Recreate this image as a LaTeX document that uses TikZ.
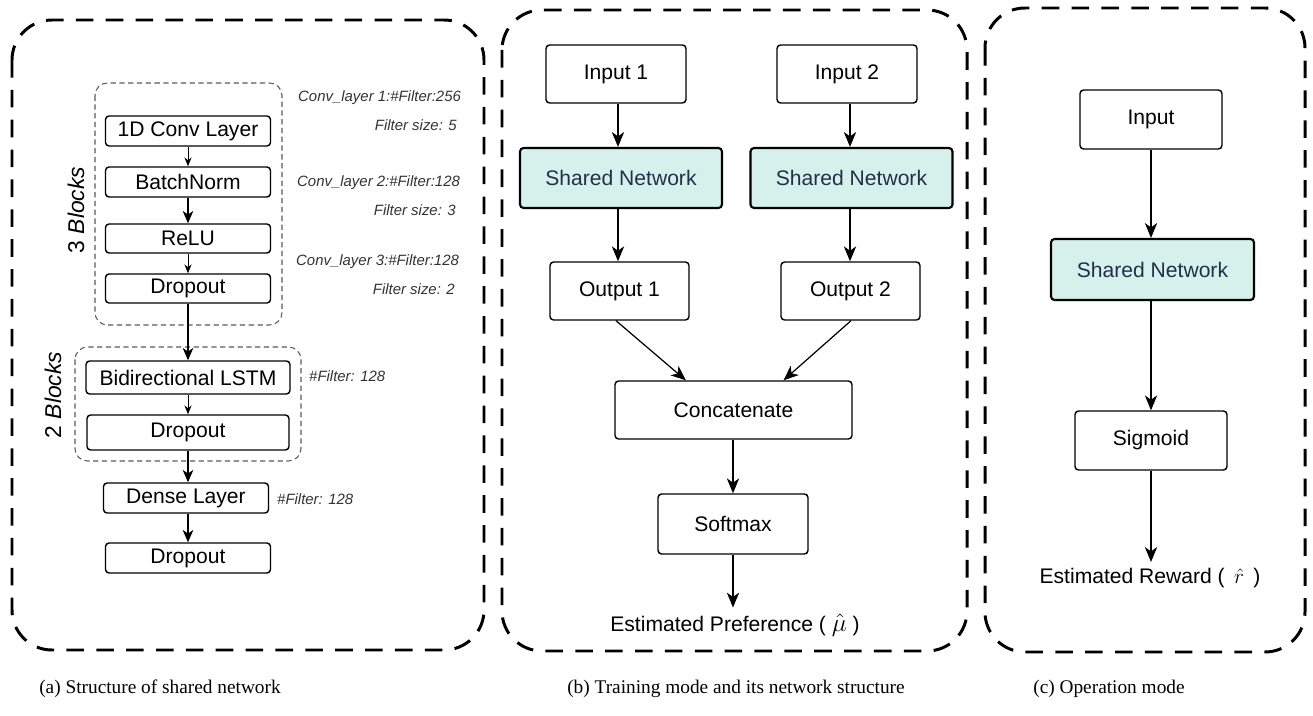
\documentclass[tikz,border=0pt]{standalone}
\usepackage{fontspec}
\usepackage{amsmath}
\setmainfont{Liberation Sans}
\newfontfamily\capfont{Liberation Serif}
\usetikzlibrary{arrows.meta,calc}
\definecolor{sharedfill}{HTML}{D6F1EC}
\definecolor{sharedtext}{HTML}{22304A}

\begin{document}
\begin{tikzpicture}[x=0.02cm,y=-0.02cm]
\tikzset{frame/.style = {line width=1.7pt, dash pattern=on 10pt off 7pt, rounded corners=0.8cm}}
\tikzset{group/.style = {draw=black!65, line width=0.6pt, dash pattern=on 3pt off 2pt, rounded corners=0.25cm}}
\tikzset{box/.style = {draw, rounded corners=2pt, line width=0.8pt, inner sep=0pt, font=\fontsize{12}{14}\selectfont}}
\tikzset{layer/.style = {box, minimum width=3.3cm, minimum height=0.6cm}}
\tikzset{shared/.style = {box, fill=sharedfill, text=sharedtext, line width=1.2pt}}
\tikzset{note/.style = {font=\fontsize{8.5}{10}\selectfont\itshape, text=black!80}}
\tikzset{edge/.style = {-{Stealth[length=8.5pt,width=7pt,inset=2.5pt]}, line width=0.7pt}}
\tikzset{thinedge/.style = {-{Stealth[length=5pt,width=4pt,inset=1.5pt]}, line width=0.5pt}}
\tikzset{boldedge/.style = {-{Stealth[length=7pt,width=6pt,inset=2pt]}, line width=0.7pt}}

\useasboundingbox (0,0) rectangle (1313,716);

% panel frames
\draw[frame] (12,20) rectangle (484,650);
\draw[frame] (502,10) rectangle (967,651);
\draw[frame] (985,8) rectangle (1305,652);

% (a) shared network
\draw[group] (95,83) rectangle (282,325);
\draw[group] (75,347) rectangle (301,461);
\node[rotate=90, font=\fontsize{13}{15}\selectfont] (blk3) at (76,210) {3 \textit{Blocks}};
\node[rotate=90, font=\fontsize{13}{15}\selectfont] (blk2) at (53,395) {2 \textit{Blocks}};

\node[layer] (conv) at (188,131) {1D Conv Layer};
\node[layer] (bn) at (188,182) {BatchNorm};
\node[layer, minimum height=0.58cm] (relu) at (188,238.5) {ReLU};
\node[layer, minimum height=0.58cm] (dropa) at (188,288.5) {Dropout};
\node[box, minimum width=4.08cm, minimum height=0.66cm] (lstm) at (188,377.5) {Bidirectional LSTM};
\node[box, minimum width=4.04cm, minimum height=0.7cm] (dropb) at (188,432.5) {Dropout};
\node[layer] (dense) at (186,498) {Dense Layer};
\node[layer] (dropc) at (188,558) {Dropout};

\node[note, anchor=west] (c1) at (292,98) {Conv\_layer 1:\#Filter:256};
\node[note, anchor=east] (f1) at (463,125) {Filter size: 5};
\node[note, anchor=west] (c2) at (291,183) {Conv\_layer 2:\#Filter:128};
\node[note, anchor=east] (f2) at (462,210) {Filter size: 3};
\node[note, anchor=west] (c3) at (290,262) {Conv\_layer 3:\#Filter:128};
\node[note, anchor=east] (f3) at (461,289) {Filter size: 2};
\node[note, anchor=west] (n1) at (303,376) {\#Filter: 128};
\node[note, anchor=west] (n2) at (271,499) {\#Filter: 128};

\draw[thinedge] (conv) -- (bn);
\draw[boldedge] (bn) -- (relu);
\draw[thinedge] (relu) -- (dropa);
\draw[boldedge] (dropa) -- (lstm);
\draw[thinedge] (lstm) -- (dropb);
\draw[boldedge] (dropb) -- (dropb |- dense.north);
\draw[boldedge] (dense.south -| dropc) -- (dropc);

% (b) training mode
\node[box, minimum width=2.8cm, minimum height=1.16cm] (in1) at (616,74) {Input 1};
\node[box, minimum width=2.8cm, minimum height=1.16cm] (in2) at (847,74) {Input 2};
\node[shared, minimum width=4.04cm, minimum height=1.2cm] (sn1) at (621,178) {Shared Network};
\node[shared, minimum width=4.04cm, minimum height=1.2cm] (sn2) at (851.5,178) {Shared Network};
\node[box, minimum width=2.78cm, minimum height=1.16cm] (out1) at (619.5,291) {Output 1};
\node[box, minimum width=2.78cm, minimum height=1.16cm] (out2) at (850.5,291) {Output 2};
\node[box, minimum width=4.74cm, minimum height=1.16cm] (cat) at (733.5,410) {Concatenate};
\node[box, minimum width=3cm, minimum height=1.2cm] (soft) at (733,524) {Softmax};
\node[font=\fontsize{12}{14}\selectfont] (pref) at (735,625) {Estimated Preference ( {\fontsize{14}{16}\selectfont$\hat{\mu}$} )};

\draw[edge] (in1.south -| 618,0) -- (sn1.north -| 618,0);
\draw[edge] (in2.south -| 850,0) -- (sn2.north -| 850,0);
\draw[edge] (sn1.south -| 618,0) -- (out1.north -| 618,0);
\draw[edge] (sn2.south -| 850,0) -- (out2.north -| 850,0);
\draw[edge] (out1.south -| 616,0) -- ($(cat.north west)!0.3!(cat.north east)$);
\draw[edge] (out2.south -| 851,0) -- ($(cat.north west)!0.71!(cat.north east)$);
\draw[edge] (cat.south -| soft) -- (soft);
\draw[edge] (soft) -- (soft |- pref.north);

% (c) operation mode
\node[box, minimum width=2.84cm, minimum height=1.18cm] (inp) at (1151,119.5) {Input};
\node[shared, minimum width=4.06cm, minimum height=1.22cm] (snc) at (1152.5,269.5) {Shared Network};
\node[box, minimum width=3.04cm, minimum height=1.18cm] (sig) at (1151,440.5) {Sigmoid};
\node[font=\fontsize{12}{14}\selectfont] (rew) at (1150,578) {Estimated Reward ( \,{\fontsize{13}{15}\selectfont$\hat{r}$}\, )};

\draw[edge] (inp) -- (inp |- snc.north);
\draw[edge] (snc.south -| inp) -- (sig);
\draw[edge] (sig) -- (sig |- rew.north);

% captions
\node[font=\capfont\fontsize{11}{13}\selectfont] (capa) at (160,689) {(a) Structure of shared network};
\node[font=\capfont\fontsize{11}{13}\selectfont] (capb) at (736,689) {(b) Training mode and its network structure};
\node[font=\capfont\fontsize{11}{13}\selectfont] (capc) at (1109,689) {(c) Operation mode};
\end{tikzpicture}
\end{document}
